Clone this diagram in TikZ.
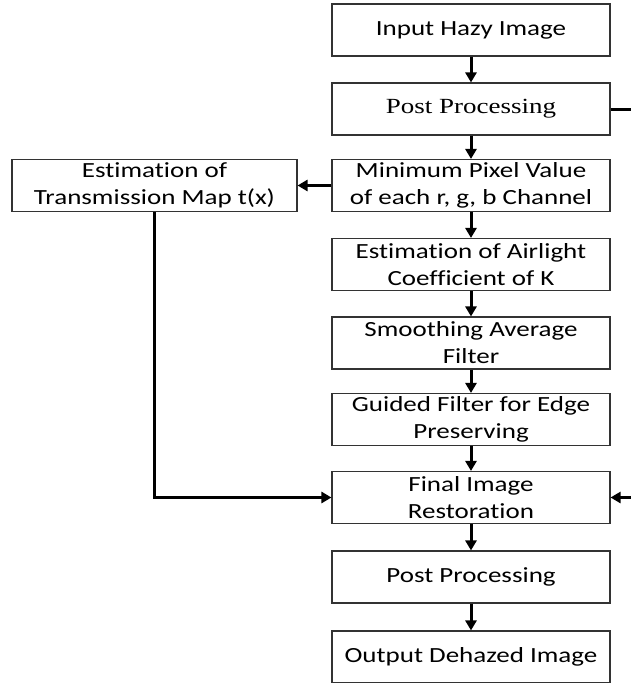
\documentclass[tikz,border=0pt]{standalone}
\usepackage{fontspec}
\setmainfont{Carlito}[Ligatures=NoCommon,FakeStretch=1.25]
\newfontfamily\serifpp{Liberation Serif}[FakeStretch=1.25]
\usetikzlibrary{arrows.meta,positioning,calc}

\begin{document}
\begin{tikzpicture}[x=1pt,y=-1pt,
  box/.style={draw=black!80,line width=1.1pt,minimum width=278pt,minimum height=52pt,inner sep=0pt,align=center,font=\fontsize{21.6}{27}\selectfont},
  flow/.style={line width=3pt,-{Triangle[length=10pt,width=11pt]}}]
\useasboundingbox (0,0) rectangle (631,683);
\node[box] (inp) at (471,30) {Input Hazy Image};
\node[box,font=\serifpp\fontsize{21.6}{27}\selectfont] (pp1) at (471,109) {Post Processing};
\node[box] (minp) at (471,185.5) {Minimum Pixel Value\\of each r, g, b Channel};
\node[box,minimum width=285pt] (est) at (154.5,185.5) {Estimation of\\Transmission Map t(x)};
\node[box] (air) at (471,264.5) {Estimation of Airlight\\Coefficient of K};
\node[box] (smooth) at (471,343) {Smoothing Average\\Filter};
\node[box] (guide) at (471,419.5) {Guided Filter for Edge\\Preserving};
\node[box] (fin) at (471,497.5) {Final Image\\Restoration};
\node[box] (pp2) at (471,577) {Post Processing};
\node[box] (outp) at (471,657) {Output Dehazed Image};
\coordinate (rtop) at (631,109);
\coordinate (rbot) at (631,497.5);
% main column
\foreach \a/\b in {inp/pp1,pp1/minp,minp/air,air/smooth,smooth/guide,guide/fin,fin/pp2,pp2/outp}
  \draw[flow] (\a) -- (\b);
\draw[flow] (minp) -- (est);
\draw[flow] (est.south) |- (fin.west);
\draw[line width=3pt] (pp1.east) -- (rtop);
\draw[flow] (rbot) -- (fin.east);
\end{tikzpicture}
\end{document}
